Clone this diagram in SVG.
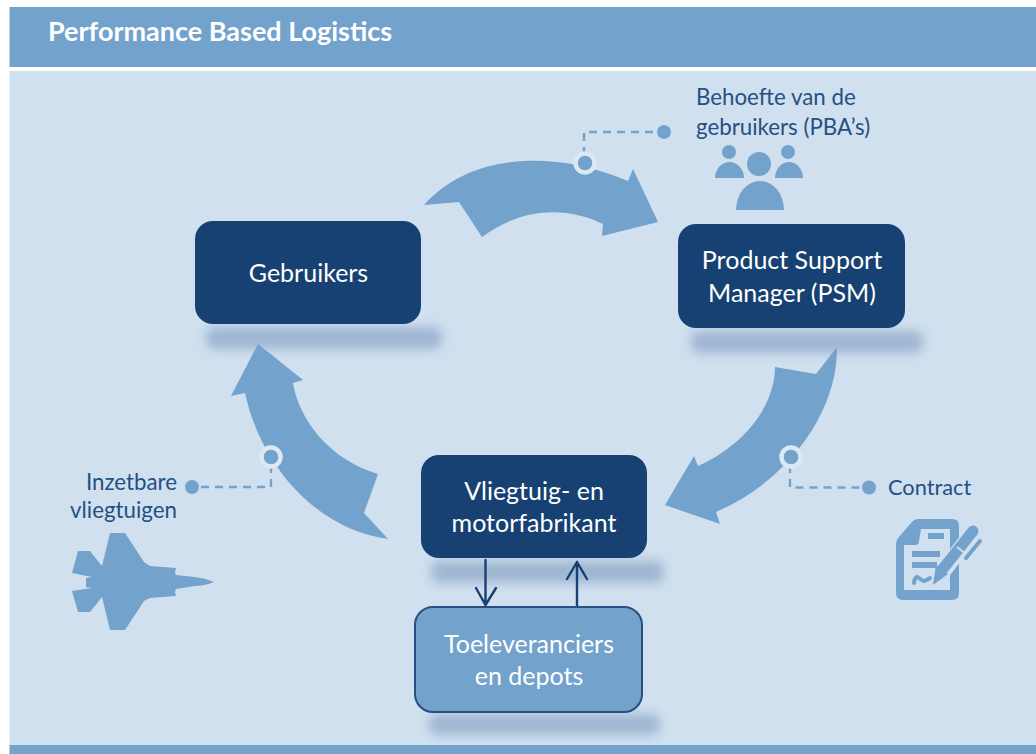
<svg xmlns="http://www.w3.org/2000/svg" width="1036" height="754" viewBox="0 0 1036 754">
<style>
.band{fill:#73a2cd}
.flow{fill:#73a2cd}
.dark{fill:#164172}
.sup{fill:#73a2cd;stroke:#245083;stroke-width:2}
.shadow{fill:#8ba6c7;opacity:.72;filter:url(#blur)}
.t{font-family:"Lato","Noto Sans",sans-serif;fill:#fff;font-size:25px;text-anchor:middle}
.note{font-family:"Lato","Noto Sans",sans-serif;fill:#245083;font-size:22.3px}
.dash{fill:none;stroke:#73a2cd;stroke-width:2.4;stroke-dasharray:8 6}
.dot{fill:#73a2cd}
.ring{fill:#73a2cd;stroke:#dce8f3;stroke-width:4.5}
.link{fill:none;stroke:#164172;stroke-width:2.4;stroke-linecap:round;stroke-linejoin:round}
.cut{fill:none;stroke:#d0e0ef}
.pen{fill:none;stroke:#73a2cd;stroke-linecap:round}
</style>
<defs>
<filter id="blur" x="-20%" y="-100%" width="140%" height="300%"><feGaussianBlur stdDeviation="5.5"/></filter>
</defs>
<rect width="1036" height="754" fill="#fff"/>
<rect class="band" x="9.500" y="7" width="1026.500" height="60"/>
<rect x="9.500" y="71" width="1026.500" height="675" fill="#d0e0ef"/>
<rect class="band" x="9.500" y="745" width="1026.500" height="9"/>
<text x="48" y="41" font-family="Lato,'Noto Sans',sans-serif" font-weight="700" font-size="27" fill="#fff">Performance Based Logistics</text>

<rect class="shadow" x="206" y="327" width="236" height="22" rx="8"/>
<rect class="shadow" x="691" y="331" width="232" height="22" rx="8"/>
<rect class="shadow" x="431" y="561" width="233" height="22" rx="8"/>
<rect class="shadow" x="429" y="714" width="231" height="21" rx="8"/>

<g id="connectors">
<path id="flow-top" class="flow" d="M424 205C468 155 550 148 628 181L633 169L658 222L602 236L603 224C570 208 525 205 482 237L459 202Z"/>
<path id="flow-right" class="flow" d="M837 347C838 410 790 480 716 512L720 524L665 505L694 456L698 466C745 445 775 405 775 367L816 374Z"/>
<path id="flow-left" class="flow" d="M258 344L303 380L293 383C299 420 330 460 378 474L364 513L388 539C320 530 262 470 245 393L231 396Z"/>
<path class="dash" d="M584 155V132H656"/>
<circle class="dot" cx="664" cy="132" r="7"/>
<circle class="ring" cx="585" cy="163" r="9.500"/>
<path class="dash" d="M271 465V487H200"/>
<circle class="dot" cx="192" cy="487" r="7"/>
<circle class="ring" cx="271" cy="457" r="9.500"/>
<path class="dash" d="M790 465V487.500H862"/>
<circle class="dot" cx="869" cy="487.500" r="7"/>
<circle class="ring" cx="791" cy="457" r="9.500"/>
<path class="link" d="M485.500 560V605M476 588L485.500 605L496 588"/>
<path class="link" d="M577 606V562M567 579L577 562L587 579"/>
</g>

<g id="node-gebruikers"><rect class="dark" x="195" y="221" width="226" height="103" rx="18"/><text class="t" x="308.500" y="282">Gebruikers</text></g>
<g id="node-psm"><rect class="dark" x="678" y="224" width="227" height="104" rx="18"/><text class="t" x="792" y="269">Product Support</text><text class="t" x="792" y="302">Manager (PSM)</text></g>
<g id="node-fabrikant"><rect class="dark" x="421" y="455" width="226" height="103" rx="18"/><text class="t" x="534" y="500">Vliegtuig- en</text><text class="t" x="534" y="532">motorfabrikant</text></g>
<g id="node-toeleveranciers"><rect class="sup" x="415" y="607" width="227" height="105" rx="18"/><text class="t" x="529" y="653">Toeleveranciers</text><text class="t" x="529" y="685">en depots</text></g>

<g id="label-behoefte"><text class="note" x="696" y="105">Behoefte van de</text><text class="note" x="696" y="135">gebruikers (PBA’s)</text>
<g class="dot"><circle cx="729" cy="152" r="7"/><path d="M715 178a14.500 16 0 0 1 29 0Z"/><circle cx="788" cy="152" r="7"/><path d="M775 178a14 16 0 0 1 28 0Z"/><circle cx="759" cy="164" r="12"/><path d="M736 210a24 29 0 0 1 48 0Z"/></g></g>
<g id="label-inzetbare"><text class="note" x="177" y="490" text-anchor="end">Inzetbare</text><text class="note" x="177" y="518" text-anchor="end">vliegtuigen</text>
<path class="dot" d="M214 582Q205 578 195 577L176 575L175 572L176 568L150 566L144 562L125 533L110 533L102 566L90 551L78 551L72 573L92 577L86 578V587L92 588L72 591L78 612H90L102 597L110 630H125L144 601L150 598L176 596L175 592L176 589L195 586Q205 586 214 582Z"/></g>
<g id="label-contract"><text class="note" x="888" y="495" style="font-size:21.800px">Contract</text>
<path class="dot" fill-rule="evenodd" d="M896 544Q896 540 899 537L911 523Q914 519 918 519H952Q959 519 959 526V593Q959 600 952 600H903Q896 600 896 593ZM904 545V590H950V529H921L919 541Q919 545 915 545Z"/>
<rect class="dot" x="928" y="533" width="16" height="6"/><rect class="dot" x="912" y="551" width="28" height="6"/><rect class="dot" x="912" y="562" width="25" height="6"/>
<path fill="none" stroke="#73a2cd" stroke-width="4" stroke-linecap="round" d="M914 583Q915 575 919 578T924 581T930 578"/>
<path class="cut" stroke-width="16" d="M938 578L973 532"/><path class="cut" stroke-width="8" d="M966 558L980 540"/>
<path class="pen" stroke-width="11" d="M942 570L973 531"/><path class="dot" d="M933 585L936 565L948 574Z"/>
<path class="pen" stroke-width="4" d="M966 558L980 541"/>
<path stroke="#d0e0ef" stroke-width="2" d="M957 547L966 554"/></g>
</svg>
